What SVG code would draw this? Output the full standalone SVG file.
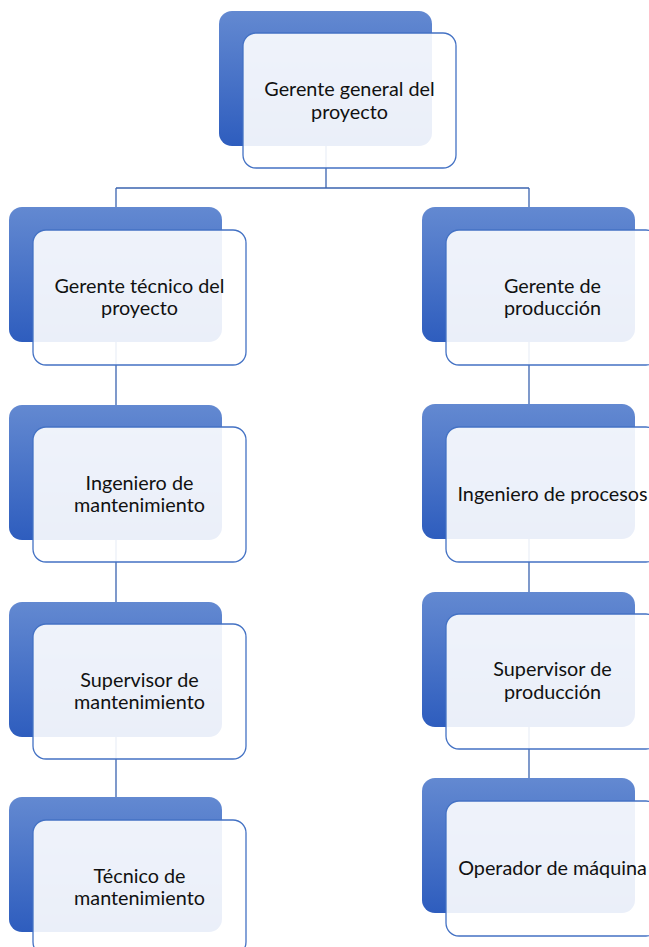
<svg xmlns="http://www.w3.org/2000/svg" width="649" height="947" viewBox="0 0 649 947">
<defs>
<linearGradient id="bg" x1="0" y1="0" x2="0" y2="1">
<stop offset="0" stop-color="#6389D1"/>
<stop offset="1" stop-color="#2E5DBE"/>
</linearGradient>
<style>
.back{fill:url(#bg);}
.front{fill:#ffffff;fill-opacity:0.9;stroke:#4472C4;stroke-width:1.3;}
.conn{fill:none;stroke:#3B64B0;stroke-width:1.3;}
text{font-family:Lato,"Open Sans","Liberation Sans",sans-serif;font-size:19.8px;fill:#111;text-anchor:middle;}
</style>
</defs>
<rect width="649" height="947" fill="#ffffff"/>
<g id="connectors">
<path class="conn" d="M326,146 V188 M116,188 H529 M116,188 V797 M529,188 V778"/>
</g>
<g id="n0">
<rect class="back" x="219" y="11" width="213" height="135" rx="13"/>
<rect class="front" x="243" y="33" width="213" height="135" rx="13"/>
<text x="349.5" y="96">Gerente general del</text>
<text x="349.5" y="118.5">proyecto</text>
</g>
<g id="l1">
<rect class="back" x="9" y="207" width="213" height="135" rx="13"/>
<rect class="front" x="33" y="230" width="213" height="135" rx="13"/>
<text x="139.5" y="292.5">Gerente técnico del</text>
<text x="139.5" y="315">proyecto</text>
</g>
<g id="l2">
<rect class="back" x="9" y="405" width="213" height="135" rx="13"/>
<rect class="front" x="33" y="427" width="213" height="135" rx="13"/>
<text x="139.5" y="489.5">Ingeniero de</text>
<text x="139.5" y="512">mantenimiento</text>
</g>
<g id="l3">
<rect class="back" x="9" y="602" width="213" height="135" rx="13"/>
<rect class="front" x="33" y="624" width="213" height="135" rx="13"/>
<text x="139.5" y="686.5">Supervisor de</text>
<text x="139.5" y="709">mantenimiento</text>
</g>
<g id="l4">
<rect class="back" x="9" y="797" width="213" height="135" rx="13"/>
<rect class="front" x="33" y="820" width="213" height="135" rx="13"/>
<text x="139.5" y="882.5">Técnico de</text>
<text x="139.5" y="905">mantenimiento</text>
</g>
<g id="r1">
<rect class="back" x="422" y="207" width="213" height="135" rx="13"/>
<rect class="front" x="446" y="230" width="213" height="135" rx="13"/>
<text x="552.5" y="292.5">Gerente de</text>
<text x="552.5" y="315">producción</text>
</g>
<g id="r2">
<rect class="back" x="422" y="404" width="213" height="135" rx="13"/>
<rect class="front" x="446" y="427" width="213" height="135" rx="13"/>
<text x="552.5" y="500.5">Ingeniero de procesos</text>
</g>
<g id="r3">
<rect class="back" x="422" y="592" width="213" height="135" rx="13"/>
<rect class="front" x="446" y="614" width="213" height="135" rx="13"/>
<text x="552.5" y="676">Supervisor de</text>
<text x="552.5" y="698.5">producción</text>
</g>
<g id="r4">
<rect class="back" x="422" y="778" width="213" height="135" rx="13"/>
<rect class="front" x="446" y="801" width="213" height="135" rx="13"/>
<text x="552.5" y="874.5">Operador de máquina</text>
</g>
</svg>
